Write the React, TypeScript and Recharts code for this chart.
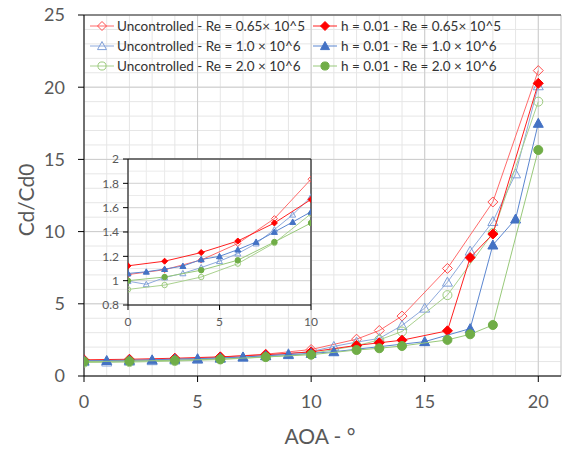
import { ScatterChart, Scatter, XAxis, YAxis, CartesianGrid, ReferenceLine } from 'recharts';

const FONT = 'Lato, "Open Sans", sans-serif';

// AOA (deg) / Cd/Cd0
const aoaRedOpen = [0, 2, 4, 6, 8, 10, 12, 13, 14, 16, 18, 20];
const cdRedOpen = [1.05, 1.09, 1.17, 1.305, 1.51, 1.834, 2.55, 3.15, 4.15, 7.45, 12.05, 21.15];

const aoaBlueOpen = [0, 1, 2, 3, 4, 5, 6, 7, 8, 9, 10, 11, 12, 13, 14, 15, 16, 17, 18, 19, 20];
const cdBlueOpen = [0.996, 0.97, 1.026, 1.06, 1.108, 1.16, 1.223, 1.305, 1.42, 1.542, 1.69, 2.05, 2.35, 2.6, 3.5, 4.7, 6.5, 8.65, 10.7, 14.0, 20.1];

const aoaGreenOpen = [0, 2, 4, 6, 8, 10, 12, 13, 14, 16, 18, 20];
const cdGreenOpen = [0.928, 0.964, 1.03, 1.14, 1.31, 1.55, 2.1, 2.5, 3.08, 5.6, 9.9, 19.0];

const aoaRedFull = [0, 2, 4, 6, 8, 10, 12, 13, 14, 16, 17, 18, 20];
const cdRedFull = [1.122, 1.16, 1.231, 1.326, 1.474, 1.667, 2.12, 2.3, 2.48, 3.13, 8.2, 9.83, 20.27];

const aoaBlueFull = [0, 1, 2, 3, 4, 5, 6, 7, 8, 9, 10, 11, 15, 17, 18, 19, 20];
const cdBlueFull = [1.059, 1.073, 1.095, 1.12, 1.174, 1.2, 1.255, 1.318, 1.4, 1.482, 1.566, 1.68, 2.38, 3.28, 9.07, 10.87, 17.5];

const aoaGreenFull = [0, 2, 4, 6, 8, 10, 12, 13, 14, 16, 17, 18, 20];
const cdGreenFull = [1.0, 1.03, 1.086, 1.168, 1.318, 1.474, 1.8, 1.92, 2.08, 2.5, 2.89, 3.53, 15.65];

const xTicks = [0, 5, 10, 15, 20];
const xMinor = [0, 1, 2, 3, 4, 5, 6, 7, 8, 9, 10, 11, 12, 13, 14, 15, 16, 17, 18, 19, 20, 21];
const yTicks = [0, 5, 10, 15, 20, 25];
const yMinor = [0, 1, 2, 3, 4, 5, 6, 7, 8, 9, 10, 11, 12, 13, 14, 15, 16, 17, 18, 19, 20, 21, 22, 23, 24, 25];

const insetXTicks = [0, 5, 10];
const insetXMinor = [0, 1, 2, 3, 4, 5, 6, 7, 8, 9, 10];
const insetYTicks = [0.8, 1, 1.2, 1.4, 1.6, 1.8, 2];
const insetYMinor = [0.8, 0.9, 1, 1.1, 1.2, 1.3, 1.4, 1.5, 1.6, 1.7, 1.8, 1.9, 2];

const zip = (xs: number[], ys: number[]) => xs.map((x, i) => ({ x, y: ys[i] }));

type Kind = 'diamond' | 'triangle' | 'circle';

const series = [
  { name: 'Uncontrolled - Re = 0.65× 10^5', data: zip(aoaRedOpen, cdRedOpen), line: '#ff6b6b', color: '#ff4d4d', kind: 'diamond' as Kind, filled: false },
  { name: 'Uncontrolled - Re = 1.0 × 10^6', data: zip(aoaBlueOpen, cdBlueOpen), line: '#8eaadc', color: '#7f9fd8', kind: 'triangle' as Kind, filled: false },
  { name: 'Uncontrolled - Re = 2.0 × 10^6', data: zip(aoaGreenOpen, cdGreenOpen), line: '#a9d18e', color: '#9ccb7e', kind: 'circle' as Kind, filled: false },
  { name: 'h = 0.01 - Re = 0.65× 10^5', data: zip(aoaRedFull, cdRedFull), line: '#ff2020', color: '#ff0000', kind: 'diamond' as Kind, filled: true },
  { name: 'h = 0.01 - Re = 1.0 × 10^6', data: zip(aoaBlueFull, cdBlueFull), line: '#5b86d0', color: '#4472c4', kind: 'triangle' as Kind, filled: true },
  { name: 'h = 0.01 - Re = 2.0 × 10^6', data: zip(aoaGreenFull, cdGreenFull), line: '#98c97a', color: '#70ad47', kind: 'circle' as Kind, filled: true },
];

function markerEl(kind: Kind, cx: number, cy: number, r: number, color: string, filled: boolean) {
  const fill = filled ? color : 'none';
  if (kind === 'diamond') {
    return <polygon points={`${cx},${cy - r} ${cx + r},${cy} ${cx},${cy + r} ${cx - r},${cy}`} fill={fill} stroke={color} strokeWidth={1} />;
  }
  if (kind === 'triangle') {
    return <polygon points={`${cx},${cy - r} ${cx + r},${cy + r * 0.8} ${cx - r},${cy + r * 0.8}`} fill={fill} stroke={color} strokeWidth={1} />;
  }
  return <circle cx={cx} cy={cy} r={r * 0.9} fill={fill} stroke={color} strokeWidth={1} />;
}

const shapeFor = (kind: Kind, color: string, filled: boolean, r: number) => (props: any) => {
  const { cx, cy } = props;
  if (cx == null || cy == null) return <g />;
  return markerEl(kind, cx, cy, r, color, filled);
};

const tickStyle = { fill: '#595959', fontSize: 18, fontFamily: FONT };
const insetTick = { fill: '#595959', fontSize: 12, fontFamily: FONT };

function Legend() {
  const cols = [
    { line: 90, text: 117 },
    { line: 313, text: 341 },
  ];
  const rows = [26, 46, 66];
  return (
    <>
      {series.map((s, i) => {
        const col = cols[i < 3 ? 0 : 1];
        const y = rows[i % 3];
        return (
          <div key={s.name}>
            <svg style={{ position: 'absolute', left: col.line, top: y - 8 }} width={26} height={16}>
              <line x1={0} y1={8} x2={24} y2={8} stroke={s.line} strokeWidth={1} />
              {markerEl(s.kind, 12, 8, 4.5, s.color, s.filled)}
            </svg>
            <div style={{ position: 'absolute', left: col.text, top: y - 9, fontFamily: FONT, fontSize: 13.5, lineHeight: '18px', color: '#333', whiteSpace: 'nowrap' }}>
              {s.name}
            </div>
          </div>
        );
      })}
    </>
  );
}

export default function App() {
  return (
    <div style={{ position: 'absolute', left: 0, top: 0, width: 566, height: 450, background: '#fff', overflow: 'hidden' }}>
      <ScatterChart width={566} height={450} margin={{ top: 15, right: 5, bottom: 44, left: 24 }}>
        <XAxis xAxisId="xm" type="number" dataKey="x" domain={[0, 21]} ticks={xMinor} interval={0} hide allowDataOverflow />
        <YAxis yAxisId="ym" type="number" dataKey="y" domain={[0, 25]} ticks={yMinor} interval={0} hide allowDataOverflow />
        <XAxis xAxisId="x" type="number" dataKey="x" domain={[0, 21]} ticks={xTicks} interval={0} height={30} allowDataOverflow
          tick={tickStyle} tickSize={6} tickMargin={13} axisLine={{ stroke: '#000' }} tickLine={{ stroke: '#000' }} />
        <YAxis yAxisId="y" type="number" dataKey="y" domain={[0, 25]} ticks={yTicks} interval={0} width={60} allowDataOverflow
          tick={tickStyle} tickSize={6} tickMargin={13} axisLine={{ stroke: '#000' }} tickLine={{ stroke: '#000' }} />
        <CartesianGrid xAxisId="xm" yAxisId="ym" stroke="#e6e6e6" />
        <CartesianGrid xAxisId="x" yAxisId="y" stroke="#cccccc" />
        <ReferenceLine xAxisId="x" yAxisId="y" y={25} stroke="#333" />
        {series.map((s) => (
          <Scatter key={s.name} xAxisId="x" yAxisId="y" data={s.data} fill={s.color}
            line={{ stroke: s.line, strokeWidth: 1 }} shape={shapeFor(s.kind, s.color, s.filled, 5)} isAnimationActive={false} />
        ))}
      </ScatterChart>

      <div style={{ position: 'absolute', left: 95, top: 150 }}>
        <ScatterChart width={225} height={185} margin={{ top: 9, right: 9, bottom: 5, left: 5 }}>
          <XAxis xAxisId="xm" type="number" dataKey="x" domain={[0, 10]} ticks={insetXMinor} interval={0} hide allowDataOverflow />
          <YAxis yAxisId="ym" type="number" dataKey="y" domain={[0.8, 2]} ticks={insetYMinor} interval={0} hide allowDataOverflow />
          <XAxis xAxisId="x" type="number" dataKey="x" domain={[0, 10]} ticks={insetXTicks} interval={0} height={25} allowDataOverflow
            tick={insetTick} tickSize={5} tickMargin={7} axisLine={{ stroke: '#000' }} tickLine={{ stroke: '#000' }} />
          <YAxis yAxisId="y" type="number" dataKey="y" domain={[0.8, 2]} ticks={insetYTicks} interval={0} width={28} allowDataOverflow
            tick={insetTick} tickSize={5} tickMargin={4} axisLine={{ stroke: '#000' }} tickLine={{ stroke: '#000' }} />
          <CartesianGrid xAxisId="xm" yAxisId="ym" stroke="#ebebeb" fill="#fff" fillOpacity={1} />
          <CartesianGrid xAxisId="x" yAxisId="y" stroke="#d6d6d6" />
          <ReferenceLine xAxisId="x" yAxisId="y" y={2} stroke="#000" />
          <ReferenceLine xAxisId="x" yAxisId="y" x={10} stroke="#000" />
          {series.map((s) => (
            <Scatter key={s.name} xAxisId="x" yAxisId="y" data={s.data.filter((p) => p.x <= 10)} fill={s.color}
              line={{ stroke: s.line, strokeWidth: 1 }} shape={shapeFor(s.kind, s.color, s.filled, 3)} isAnimationActive={false} />
          ))}
        </ScatterChart>
      </div>

      <Legend />

      <div style={{ position: 'absolute', left: 25, top: 200, transform: 'translate(-50%, -50%) rotate(-90deg)', fontFamily: FONT, fontSize: 21, color: '#595959', whiteSpace: 'nowrap' }}>
        Cd/Cd0
      </div>
      <div style={{ position: 'absolute', left: 320, top: 435, transform: 'translate(-50%, -50%)', fontFamily: FONT, fontSize: 21, color: '#595959', whiteSpace: 'nowrap' }}>
        AOA - °
      </div>
    </div>
  );
}
